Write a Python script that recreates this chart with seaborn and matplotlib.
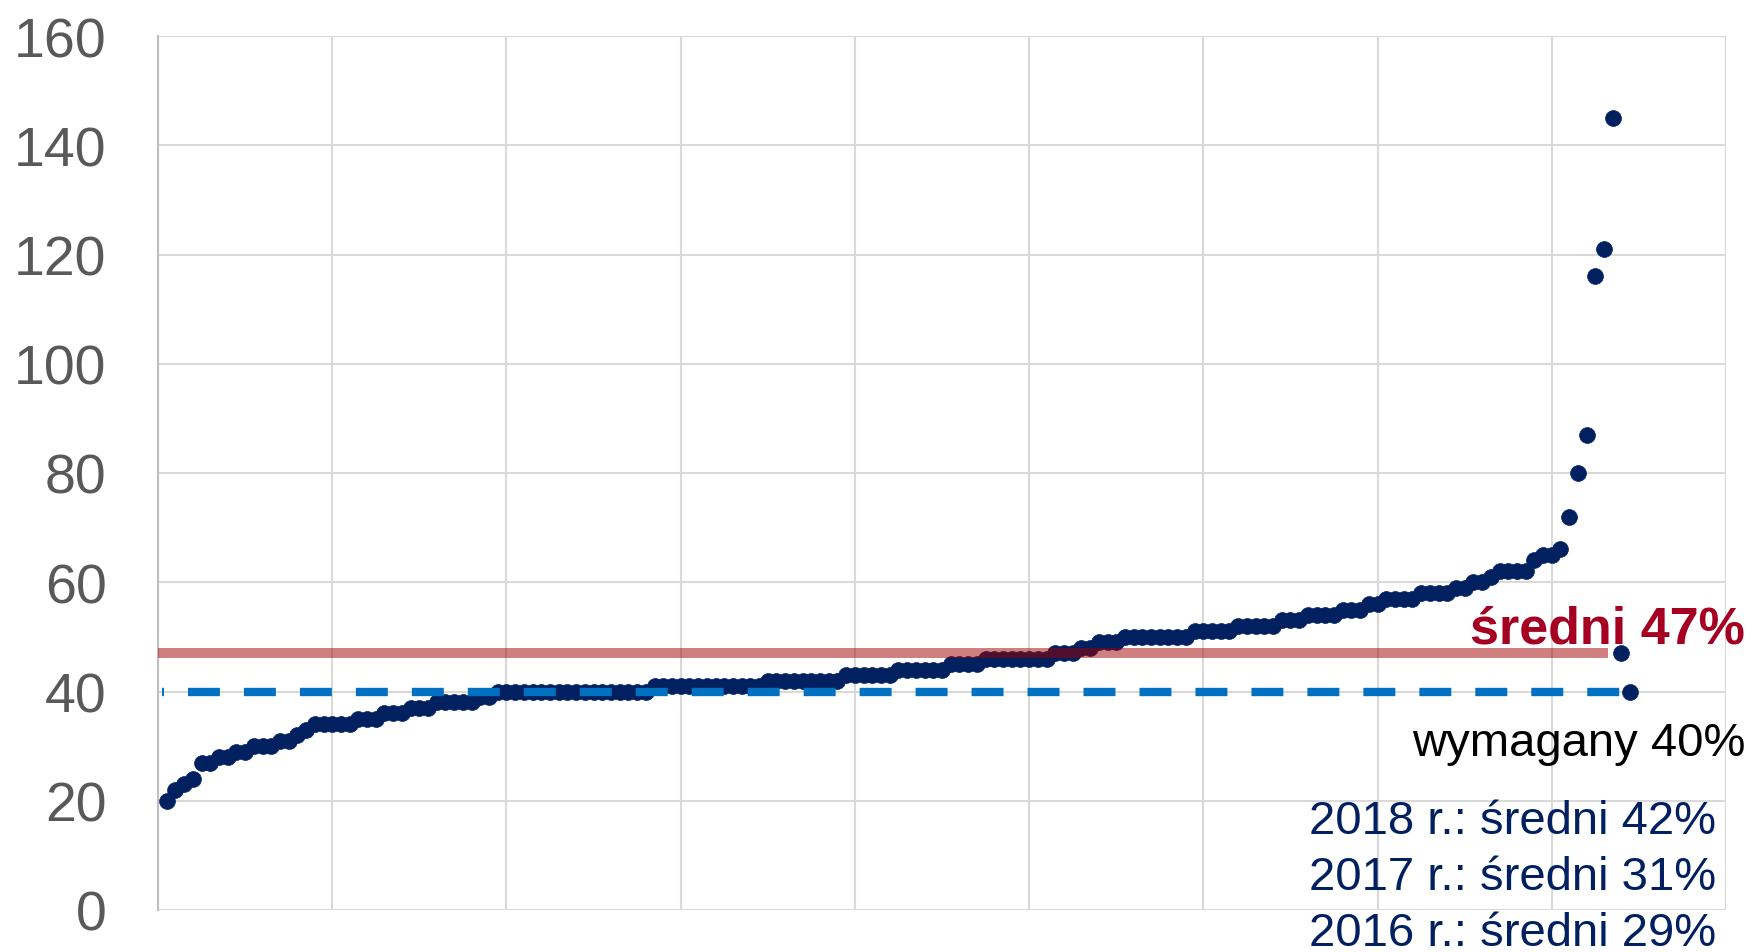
import matplotlib
matplotlib.use("Agg")
import matplotlib.pyplot as plt
import seaborn as sns
import pandas as pd

# ---- data ----
values = [
    20, 22, 23, 24, 27, 27, 28, 28, 29, 29,
    30, 30, 30, 31, 31, 32, 33, 34, 34, 34,
    34, 34, 35, 35, 35, 36, 36, 36, 37, 37,
    37, 38, 38, 38, 38, 38, 39, 39, 40, 40,
    40, 40, 40, 40, 40, 40, 40, 40, 40, 40,
    40, 40, 40, 40, 40, 40, 41, 41, 41, 41,
    41, 41, 41, 41, 41, 41, 41, 41, 41, 42,
    42, 42, 42, 42, 42, 42, 42, 42, 43, 43,
    43, 43, 43, 43, 44, 44, 44, 44, 44, 44,
    45, 45, 45, 45, 46, 46, 46, 46, 46, 46,
    46, 46, 47, 47, 47, 48, 48, 49, 49, 49,
    50, 50, 50, 50, 50, 50, 50, 50, 51, 51,
    51, 51, 51, 52, 52, 52, 52, 52, 53, 53,
    53, 54, 54, 54, 54, 55, 55, 55, 56, 56,
    57, 57, 57, 57, 58, 58, 58, 58, 59, 59,
    60, 60, 61, 62, 62, 62, 62, 64, 65, 65,
    66, 72, 80, 87, 116, 121, 145,
]
positions = list(range(1, len(values) + 1))

mean_value = 47
required_value = 40
mean_label = "średni 47%"
required_label = "wymagany 40%"
history_labels = ["2018 r.: średni 42%", "2017 r.: średni 31%", "2016 r.: średni 29%"]
y_ticks = [0, 20, 40, 60, 80, 100, 120, 140, 160]
x_grid = [0, 20, 40, 60, 80, 100, 120, 140, 160, 180]

# ---- style ----
sns.set_theme(style="white")
plt.rcParams["font.family"] = ["Liberation Sans", "DejaVu Sans"]
plt.rcParams["lines.scale_dashes"] = False

NAVY = "#002060"
W, H = 1754, 953
fig = plt.figure(figsize=(W / 100, H / 100), dpi=100)
ax = fig.add_axes([158 / W, 1 - 911 / H, (1726 - 158) / W, (911 - 37) / H])

df = pd.DataFrame({"pos": positions, "val": values})
sns.scatterplot(data=df, x="pos", y="val", ax=ax, s=130, color=NAVY,
                edgecolor=NAVY, linewidth=0.5, zorder=3, legend=False)

# mean line (semi-transparent red, drawn over points)
ax.plot([0, 166.5], [mean_value, mean_value], color="#A00000", alpha=0.5,
        lw=7.2, solid_capstyle="butt", zorder=4)
# required line (dashed blue)
ax.plot([0.5, 168], [required_value, required_value], color="#0070C0",
        lw=6, linestyle=(21.6, (23, 17.3)), dash_capstyle="butt", zorder=5)
# end markers of the two reference lines
sns.scatterplot(x=[168, 169], y=[mean_value, required_value], ax=ax, s=130,
                color=NAVY, edgecolor=NAVY, linewidth=0.5, zorder=6, legend=False)

ax.set_xlim(0, 180)
ax.set_ylim(0, 160)
ax.set_yticks(y_ticks)
ax.set_xticks(x_grid)
ax.set_xticklabels([])
ax.set_xlabel("")
ax.set_ylabel("")
ax.grid(True, color="#D9D9D9", lw=1.5)
ax.set_axisbelow(True)
for side in ["top", "right", "bottom"]:
    ax.spines[side].set_visible(False)
ax.spines["left"].set_color("#BFBFBF")
ax.spines["left"].set_linewidth(1.5)
ax.tick_params(axis="y", length=0, pad=37, labelsize=40, labelcolor="#595959")
ax.tick_params(axis="x", length=0)

# annotations
fig.text(1745 / W, 1 - 643 / H, mean_label, ha="right", va="baseline",
         fontsize=37.5, fontweight="bold", color="#A50021")
fig.text(1745 / W, 1 - 756 / H, required_label, ha="right", va="baseline",
         fontsize=34, color="black")
for i, lab in enumerate(history_labels):
    fig.text(1309 / W, 1 - (834 + 56 * i) / H, lab, ha="left", va="baseline",
             fontsize=34, color=NAVY)

fig.savefig("out.png", dpi=100)
